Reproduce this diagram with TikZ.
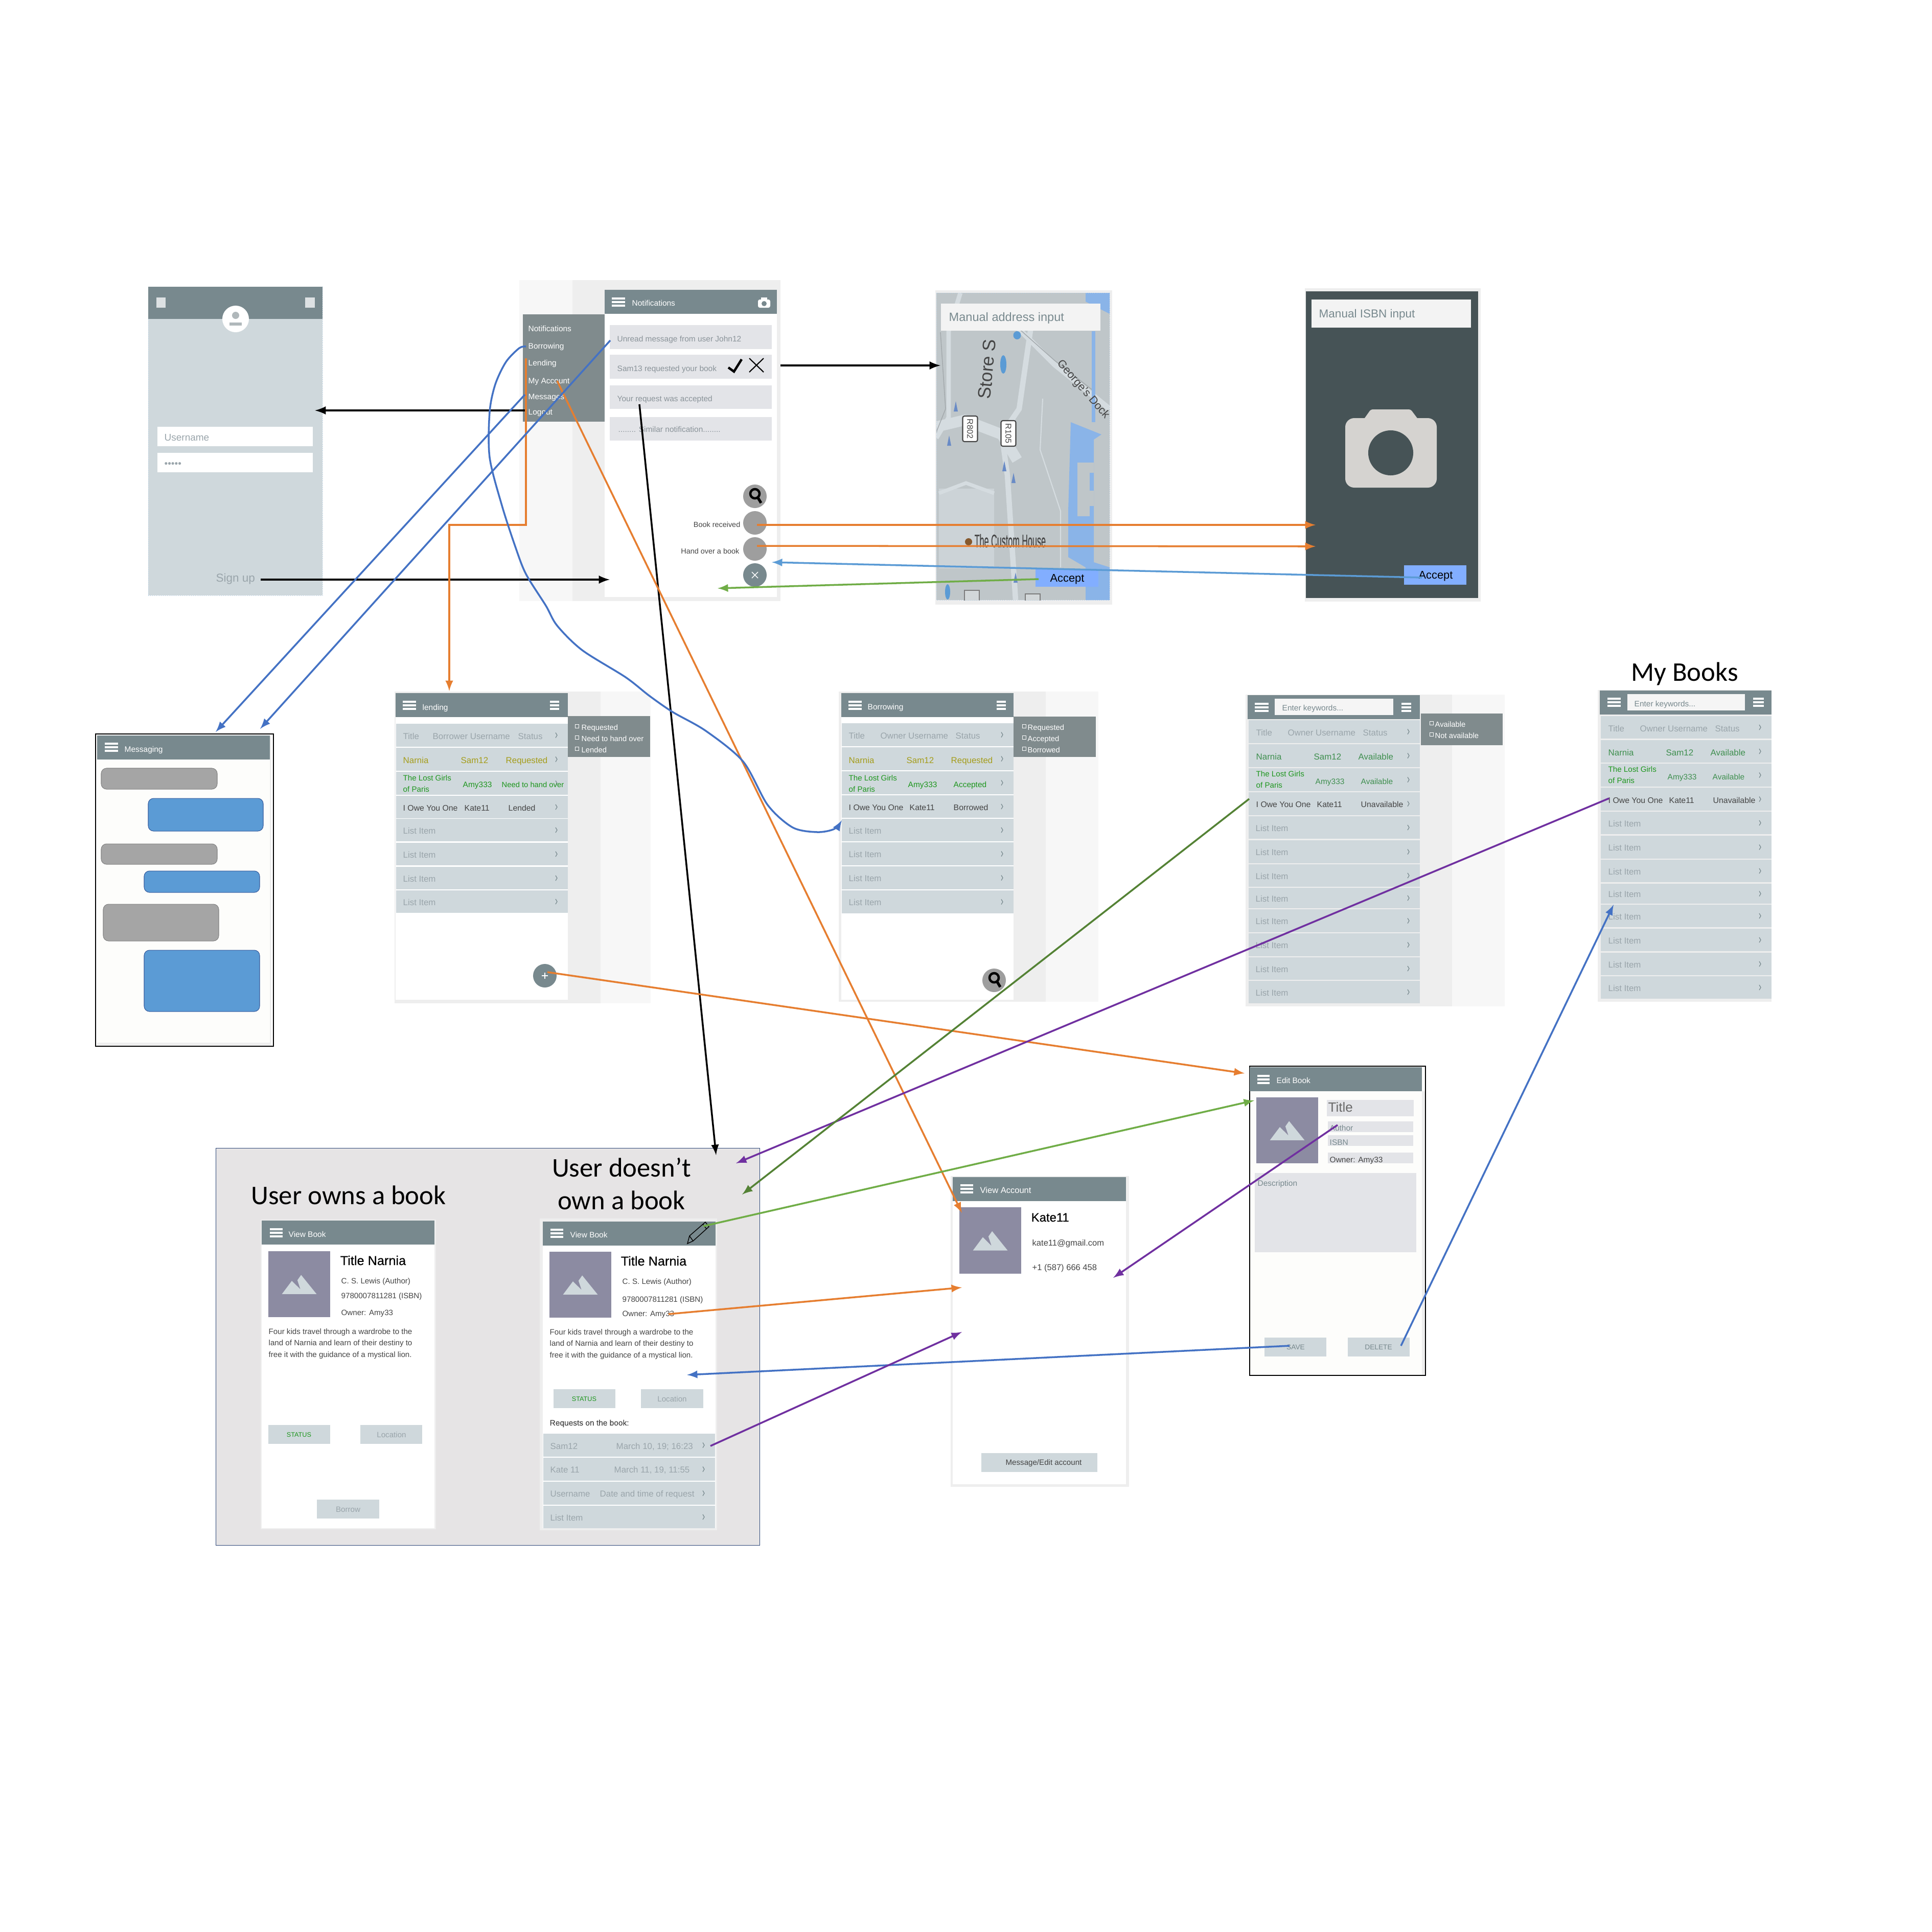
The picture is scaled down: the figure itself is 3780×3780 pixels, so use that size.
\documentclass[tikz,border=0pt]{standalone}
\usepackage{fontspec}
\setmainfont{Liberation Sans}
\newfontfamily\headfont{Carlito}
\newfontfamily\midfont[FakeBold=0.35]{Liberation Sans}
\usetikzlibrary{calc, arrows}
\definecolor{barcol}{HTML}{78898E}
\definecolor{rowcol}{HTML}{CFD8DC}
\definecolor{drawercol}{HTML}{808B8D}
\definecolor{notecol}{HTML}{E3E4E8}
\definecolor{panelcol}{HTML}{EEEEEE}
\definecolor{sidecol}{HTML}{F7F7F7}
\definecolor{fabgray}{HTML}{9E9E9E}
\definecolor{bubgray}{HTML}{A5A5A5}
\definecolor{bubblue}{HTML}{5B9BD5}
\definecolor{picol}{HTML}{8C8BA2}
\definecolor{faint}{HTML}{9AA5AB}
\definecolor{olivetxt}{HTML}{A59D1B}
\definecolor{greentxt}{HTML}{1E961E}
\definecolor{availtxt}{HTML}{3F8F4F}
\definecolor{darktxt}{HTML}{444444}
\definecolor{orangeln}{HTML}{E67E30}
\definecolor{blueln}{HTML}{4472C4}
\definecolor{skyln}{HTML}{5B9BD5}
\definecolor{limeln}{HTML}{70AD47}
\definecolor{mossln}{HTML}{548235}
\definecolor{purpleln}{HTML}{7030A0}
\definecolor{mapcol}{HTML}{BFC6C9}
\definecolor{roadcol}{HTML}{D5DCE0}
\definecolor{watercol}{HTML}{8AB4E8}
\definecolor{acceptcol}{HTML}{82AEFF}
\definecolor{slatecol}{HTML}{465356}
\definecolor{iconcol}{HTML}{D5D3D0}
\definecolor{greypanel}{HTML}{E6E4E5}
\definecolor{papercol}{HTML}{FDFDFB}
\tikzset{
  uitext/.style={anchor=west,inner sep=0pt,text height=1.5ex,text depth=.74ex,font=\fontsize{4.4}{6}\selectfont},
  listtxt/.style={uitext,font=\fontsize{4.8}{6}\selectfont},
  owetxt/.style={uitext,text=darktxt,font=\fontsize{4.5}{6}\selectfont},
  headtxt/.style={uitext,text=white},
  lostgirls/.style={anchor=west,inner sep=0pt,align=left,text=greentxt,font=\fontsize{4.3}{6.3}\selectfont},
  blurb/.style={anchor=west,inner sep=0pt,align=left,text=darktxt,font=\fontsize{4.3}{6.4}\selectfont},
  btntxt/.style={inner sep=0pt,font=\fontsize{4.3}{6}\selectfont,text=faint},
  bigtxt/.style={inner sep=0pt,font=\headfont\fontsize{15}{18}\selectfont},
  chev/.style={draw=barcol,line width=.35pt},
  bubble/.style={rounded corners=3pt,line width=.3pt},
  linkln/.style={line width=1pt}
}
% hamburger icon: left, right, top
\newcommand{\hamb}[3]{\foreach \k in {0,7,14} \fill[white] (#1,#3+\k) rectangle (#2,#3+\k+3.5);}
% list bar with its chevron: left, right, top, bottom
\newcommand{\rowbar}[4]{\fill[rowcol] (#1,#3) rectangle (#2,#4);
  \draw[chev] ({#2-24},{(#3+#4)/2-5}) -- ({#2-21},{(#3+#4)/2}) -- ({#2-24},{(#3+#4)/2+5});}
% little tick box of a drawer: left, middle
\newcommand{\tickbox}[2]{\draw[white,line width=.25pt] (#1,#2-3.5) rectangle (#1+7,#2+3.5);}
% grey book picture: left, right, top, bottom
\newcommand{\bookpic}[4]{\fill[picol] (#1,#3) rectangle (#2,#4);
  \fill[rowcol] ($(#1,#3)!.22!(#2,#3)+(0,{(#4-#3)*.65})$) -- ($(#1,#3)!.38!(#2,#3)+(0,{(#4-#3)*.45})$) -- ($(#1,#3)!.52!(#2,#3)+(0,{(#4-#3)*.58})$) -- ($(#1,#3)!.47!(#2,#3)+(0,{(#4-#3)*.44})$) -- ($(#1,#3)!.53!(#2,#3)+(0,{(#4-#3)*.36})$) -- ($(#1,#3)!.78!(#2,#3)+(0,{(#4-#3)*.65})$) -- cycle;}
% magnifying glass on a grey circle: centre x, centre y
\newcommand{\lens}[2]{\fill[fabgray] (#1,#2) circle [radius=.23cm];
  \draw[line width=1.3pt] (#1,#2-5) circle [radius=.09cm];
  \draw[line width=1.5pt] (#1+6,#2+3) -- (#1+12,#2+13);}

\begin{document}
\begin{tikzpicture}[x=0.01cm,y=-0.01cm,>=latex]
\fill[white] (0,0) rectangle (3780,3780);
\useasboundingbox (0,0) rectangle (3780,3780);

% the login screen
\fill[rowcol] (290,561) rectangle (631,1165);
\draw[skyln!50,line width=.2pt,densely dotted] (290,561) rectangle (631,1165);
\fill[barcol] (290,561) rectangle (631,624);
\fill[white!75!barcol] (306,582) rectangle (324,602);
\fill[white!75!barcol] (597,582) rectangle (616,602);
\fill[white] (461,624) circle [radius=.26cm];
\fill[rowcol!85!black] (461,617) circle [radius=.07cm];
\fill[rowcol!85!black] (449,637) -- (449,631) -- (473,631) -- (473,637) -- cycle;
\fill[white] (308,835) rectangle (612,873);
\fill[white] (308,886) rectangle (612,924);
\node[uitext,text=faint,font=\fontsize{5.4}{6}\selectfont] (loginUser) at (321,855) {Username};
\node[uitext,text=faint,font=\fontsize{5.4}{6}\selectfont] (loginPass) at (321,906) {•••••};
\node[uitext,text=faint,font=\fontsize{6.4}{7}\selectfont] (signUp) at (422,1131) {Sign up};

% the notifications screen
\fill[sidecol] (1016,548) rectangle (1120,1176);
\fill[panelcol] (1120,548) rectangle (1527,1176);
\fill[white] (1183,567) rectangle (1520,1168);
\fill[barcol] (1183,567) rectangle (1520,614);
\hamb{1197}{1223}{582}
\node[headtxt] (noteTitle) at (1236,591) {Notifications};
\fill[white,rounded corners=1pt] (1483,586) rectangle (1507,602);
\fill[white] (1489,582) rectangle (1501,587);
\fill[barcol] (1495,594) circle [radius=.05cm];
\fill[drawercol] (1023,615) rectangle (1183,825);
\foreach \nm/\py/\tx in {menuNote/641/Notifications,menuBorrow/675/Borrowing,menuLend/708/Lending,menuAcct/743/My Account,menuMsg/774/Messages,menuOut/804/Logout}
  \node[headtxt] (\nm) at (1033,\py) {\tx};
\foreach \ya/\yb in {636/683,694/741,754/800,816/862}
  \fill[notecol] (1193,\ya) rectangle (1510,\yb);
\foreach \nm/\py/\tx in {noteUnread/661/Unread message from user John12,noteSam/719/Sam13 requested your book,noteOk/778/Your request was accepted}
  \node[uitext,text=faint!90!black] (\nm) at (1207,\py) {\tx};
\node[uitext,text=faint!90!black] (noteMore) at (1209,838) {........ Similar notification........};
\draw[line width=1.3pt] (1425,719) -- (1436,727) -- (1451,703);
\draw[line width=.6pt] (1466,701) -- (1494,728) (1466,728) -- (1494,701);
\lens{1477}{971}
\fill[fabgray] (1477,1023) circle [radius=.23cm];
\fill[fabgray] (1477,1074) circle [radius=.23cm];
\fill[barcol] (1477,1125) circle [radius=.23cm];
\draw[white,line width=.4pt] (1471,1119) -- (1483,1131) (1471,1131) -- (1483,1119);
\node[uitext,anchor=east,text=darktxt,font=\fontsize{4.1}{6}\selectfont] (fabGot) at (1449,1024) {Book received};
\node[uitext,anchor=east,text=darktxt,font=\fontsize{4.1}{6}\selectfont] (fabGive) at (1447,1076) {Hand over a book};

% the map screen
\fill[panelcol] (1830,568) rectangle (2176,1183);
\begin{scope}
\clip (1832,573) rectangle (2171,1174);
\fill[mapcol] (1832,573) rectangle (2171,1174);
\draw[roadcol,line width=2.5pt] (1879,573) -- (1856,648) -- (1856,817) -- (1832,857);
\draw[roadcol,line width=3pt] (2017,640) -- (1994,800) -- (1960,850) -- (1971,930) -- (1987,1174);
\draw[roadcol,line width=6pt] (1832,835) -- (1887,822) -- (1960,850) -- (1990,900);
\draw[roadcol,line width=3pt] (1990,640) -- (2063,713) -- (2171,800);
\draw[mapcol!85!black,line width=.4pt] (1990,640) -- (2063,705) -- (2140,765);
\draw[mapcol!85!black,line width=.4pt] (1840,650) -- (1850,800) -- (1832,845);
\draw[roadcol,line width=.6pt] (2040,780) -- (2035,880) -- (2075,1000) -- (2075,1110);
\fill[roadcol!60!mapcol] (1837,956) rectangle (1945,1112);
\draw[roadcol,line width=2pt] (1837,965) -- (1890,945) -- (1945,965);
\fill[watercol] (2124,573) -- (2171,573) -- (2171,614) -- (2124,590) -- cycle;
\fill[watercol] (2136,648) rectangle (2143,826);
\fill[watercol] (2095,826) -- (2155,850) -- (2140,860) -- (2140,1100) -- (2171,1110) -- (2171,1174) -- (2124,1174) -- (2124,1110) -- (2090,1090) -- (2090,1000) -- cycle;
\fill[mapcol] (2108,905) rectangle (2140,1010);
\fill[watercol] (2132,925) rectangle (2140,960);
\fill[watercol] (2132,990) rectangle (2140,1010);
\fill[skyln] (1963,713) ellipse [x radius=.06cm,y radius=.18cm];
\fill[skyln] (1990,656) ellipse [x radius=.075cm,y radius=.08cm];
\fill[skyln] (1854,1158) ellipse [x radius=.05cm,y radius=.15cm];
\foreach \px/\py in {1870/795,1857/862,1965/912,1983/935,1987/1130}
  \fill[blueln!70!mapcol] (\px,\py-10) -- (\px+4,\py+10) -- (\px-4,\py+10) -- cycle;
\node[rotate=85,inner sep=0pt,text=darktxt,font=\fontsize{10}{12}\selectfont] (mapStore) at (1931,722) {Store S};
\node[rotate=-49,inner sep=0pt,text=darktxt,font=\fontsize{6.2}{7}\selectfont] (mapDock) at (2119,762) {George's Dock};
\foreach \nm/\px/\py/\tx in {mapSignA/1898/839/R802,mapSignB/1973/848/R105}
  \node[draw=darktxt,line width=.6pt,fill=white,rounded corners=1pt,rotate=-90,inner sep=0pt,minimum width=.5cm,minimum height=.29cm,text=darktxt,font=\fontsize{4.6}{5}\selectfont] (\nm) at (\px,\py) {\tx};
\fill[mapcol!70!white,draw=darktxt!70!white,line width=.5pt] (1887,1155) rectangle (1916,1185);
\fill[mapcol!70!white,draw=darktxt!70!white,line width=.5pt] (2006,1162) rectangle (2035,1185);
\fill[brown!70!black] (1895,1060) circle [radius=.07cm];
\node[anchor=west,inner sep=0pt,yscale=2.2,text=darktxt,font=\midfont\fontsize{4.6}{6}\selectfont] (mapHouse) at (1906,1058) {The Custom House};
\end{scope}
\draw[skyln!50,line width=.2pt,densely dotted] (1832,573) rectangle (2171,1174);
\fill[panelcol!70!white] (1841,594) rectangle (2153,647);
\node[uitext,text=barcol,font=\fontsize{6.7}{8}\selectfont] (addrInput) at (1856,621) {Manual address input};
\fill[acceptcol] (2026,1113) rectangle (2149,1148);
\node[inner sep=0pt,font=\fontsize{6.2}{8}\selectfont] (mapAccept) at (2088,1133) {Accept};

% the camera screen
\fill[panelcol] (2553,564) rectangle (2897,1177);
\fill[slatecol] (2555,570) rectangle (2892,1170);
\fill[panelcol!70!white] (2566,586) rectangle (2878,641);
\node[uitext,text=barcol,font=\fontsize{6.4}{8}\selectfont] (isbnInput) at (2580,614) {Manual ISBN input};
\fill[iconcol,rounded corners=5pt] (2632,818) rectangle (2811,954);
\fill[iconcol,rounded corners=1pt] (2665,825) -- (2682,801) -- (2760,801) -- (2778,825) -- cycle;
\fill[slatecol] (2721,886) circle [radius=.44cm];
\fill[acceptcol] (2747,1106) rectangle (2869,1144);
\node[inner sep=0pt,font=\fontsize{6.2}{8}\selectfont] (camAccept) at (2809,1127) {Accept};

% the messaging screen
\fill[panelcol] (190,1439) rectangle (531,2045);
\fill[papercol] (190,1439) rectangle (528,2040);
\draw[line width=.4pt] (187,1436) rectangle (535,2047);
\fill[barcol] (190,1439) rectangle (528,1486);
\hamb{205}{231}{1453}
\node[headtxt] (msgTitle) at (243,1464) {Messaging};
\foreach \xa/\xb/\ya/\yb in {198/425/1503/1544,198/425/1651/1691,202/428/1769/1841}
  \draw[bubble,fill=bubgray,draw=bubgray!80!black] (\xa,\ya) rectangle (\xb,\yb);
\foreach \xa/\xb/\ya/\yb in {290/515/1562/1626,282/508/1704/1746,282/508/1859/1979}
  \draw[bubble,fill=bubblue,draw=blueln!80!black] (\xa,\ya) rectangle (\xb,\yb);

% the lending screen
\fill[panelcol] (772,1353) rectangle (1175,1963);
\fill[sidecol] (1175,1353) rectangle (1273,1963);
\fill[white] (774,1356) rectangle (1111,1956);
\fill[barcol] (774,1356) rectangle (1111,1403);
\hamb{788}{814}{1371}
\hamb{1076}{1094}{1371}
\node[headtxt] (lendTitle) at (826,1382) {lending};
\rowbar{775}{1111}{1416}{1461}
\rowbar{775}{1111}{1463}{1508}
\rowbar{775}{1111}{1510}{1555}
\rowbar{775}{1111}{1557}{1601}
\foreach \nm/\px/\py/\tx in {lendHa/788/1439/Title,lendHb/846/1439/Borrower Username,lendHc/1013/1439/Status}
  \node[listtxt,text=faint] (\nm) at (\px,\py) {\tx};
\foreach \nm/\px/\tx in {lendNa/788/Narnia,lendNb/901/Sam12,lendNc/989/Requested}
  \node[listtxt,text=olivetxt] (\nm) at (\px,1486) {\tx};
\node[lostgirls] (lendLost) at (788,1533) {The Lost Girls\\of Paris};
\node[uitext,text=greentxt] (lendLb) at (905,1533) {Amy333};
\node[uitext,text=greentxt,font=\fontsize{4.2}{6}\selectfont] (lendLc) at (981,1533) {Need to hand over};
\foreach \nm/\px/\tx in {lendOa/788/I Owe You One,lendOb/908/Kate11,lendOc/994/Lended}
  \node[owetxt] (\nm) at (\px,1579) {\tx};
\foreach \i/\ya/\yb in {1/1602/1646,2/1649/1693,3/1696/1740,4/1742/1786} {
  \rowbar{775}{1111}{\ya}{\yb}
  \node[listtxt,text=faint] (lendItem\i) at (788,{(\ya+\yb)/2}) {List Item};
}
\fill[drawercol] (1111,1401) rectangle (1272,1481);
\foreach \nm/\py/\tx in {lendDa/1421/Requested,lendDb/1443/Need to hand over,lendDc/1465/Lended} {
  \tickbox{1125}{\py}
  \node[headtxt,font=\fontsize{4.2}{6}\selectfont] (\nm) at (1137,\py) {\tx};
}
\fill[barcol] (1066,1909) circle [radius=.23cm];
\draw[white,line width=.4pt] (1060,1909) -- (1072,1909) (1066,1903) -- (1066,1915);

% the borrowing screen
\fill[panelcol] (1641,1353) rectangle (2046,1960);
\fill[sidecol] (2046,1353) rectangle (2149,1960);
\fill[white] (1646,1356) rectangle (1983,1956);
\fill[barcol] (1646,1356) rectangle (1983,1403);
\hamb{1660}{1686}{1371}
\hamb{1950}{1968}{1371}
\node[headtxt] (borrowTitle) at (1697,1381) {Borrowing};
\rowbar{1647}{1983}{1415}{1460}
\rowbar{1647}{1983}{1462}{1507}
\rowbar{1647}{1983}{1509}{1554}
\rowbar{1647}{1983}{1556}{1600}
\foreach \nm/\px/\py/\tx in {borrowHa/1660/1438/Title,borrowHb/1722/1438/Owner Username,borrowHc/1869/1438/Status}
  \node[listtxt,text=faint] (\nm) at (\px,\py) {\tx};
\foreach \nm/\px/\tx in {borrowNa/1660/Narnia,borrowNb/1773/Sam12,borrowNc/1860/Requested}
  \node[listtxt,text=olivetxt] (\nm) at (\px,1486) {\tx};
\node[lostgirls] (borrowLost) at (1660,1533) {The Lost Girls\\of Paris};
\node[uitext,text=greentxt] (borrowLb) at (1776,1533) {Amy333};
\node[uitext,text=greentxt] (borrowLc) at (1865,1533) {Accepted};
\foreach \nm/\px/\tx in {borrowOa/1660/I Owe You One,borrowOb/1779/Kate11,borrowOc/1865/Borrowed}
  \node[owetxt] (\nm) at (\px,1578) {\tx};
\foreach \i/\ya/\yb in {1/1602/1646,2/1648/1693,3/1695/1740,4/1742/1787} {
  \rowbar{1647}{1983}{\ya}{\yb}
  \node[listtxt,text=faint] (borrowItem\i) at (1660,{(\ya+\yb)/2}) {List Item};
}
\fill[drawercol] (1983,1402) rectangle (2144,1481);
\foreach \nm/\py/\tx in {borrowDa/1421/Requested,borrowDb/1443/Accepted,borrowDc/1465/Borrowed} {
  \tickbox{2000}{\py}
  \node[headtxt,font=\fontsize{4.2}{6}\selectfont] (\nm) at (2010,\py) {\tx};
}
\lens{1945}{1918}

% the search screen
\fill[panelcol] (2437,1359) rectangle (2841,1969);
\fill[sidecol] (2841,1359) rectangle (2944,1969);
\fill[barcol] (2441,1360) rectangle (2778,1407);
\hamb{2455}{2482}{1375}
\hamb{2742}{2761}{1375}
\fill[white!96!black] (2494,1367) rectangle (2726,1399);
\node[uitext,text=barcol] (searchKey) at (2508,1383) {Enter keywords...};
\rowbar{2443}{2778}{1409}{1454}
\rowbar{2443}{2778}{1456}{1501}
\rowbar{2443}{2778}{1503}{1548}
\rowbar{2443}{2778}{1550}{1595}
\foreach \nm/\px/\tx in {searchHa/2457/Title,searchHb/2519/Owner Username,searchHc/2666/Status}
  \node[listtxt,text=faint] (\nm) at (\px,1432) {\tx};
\foreach \nm/\px/\tx in {searchNa/2457/Narnia,searchNb/2570/Sam12,searchNc/2657/Available}
  \node[listtxt,text=availtxt] (\nm) at (\px,1479) {\tx};
\node[lostgirls] (searchLost) at (2457,1525) {The Lost Girls\\of Paris};
\node[uitext,text=availtxt] (searchLb) at (2573,1527) {Amy333};
\node[uitext,text=availtxt] (searchLc) at (2662,1527) {Available};
\foreach \nm/\px/\tx in {searchOa/2457/I Owe You One,searchOb/2576/Kate11,searchOc/2662/Unavailable}
  \node[owetxt] (\nm) at (\px,1572) {\tx};
\foreach \i/\ya/\yb in {1/1597/1641,2/1644/1689,3/1691/1735,4/1737/1777,5/1779/1824,6/1826/1871,7/1873/1917,8/1919/1963} {
  \rowbar{2443}{2778}{\ya}{\yb}
  \node[listtxt,text=faint] (searchItem\i) at (2456,{(\ya+\yb)/2}) {List Item};
}
\fill[drawercol] (2780,1396) rectangle (2940,1458);
\foreach \nm/\py/\tx in {searchDa/1415/Available,searchDb/1437/Not available} {
  \tickbox{2797}{\py}
  \node[headtxt,font=\fontsize{4.2}{6}\selectfont] (\nm) at (2807,\py) {\tx};
}

% my books
\fill[panelcol] (3126,1350) rectangle (3466,1960);
\node[bigtxt] (myTitle) at (3296,1318) {My Books};
\fill[barcol] (3130,1351) rectangle (3466,1398);
\hamb{3145}{3171}{1365}
\hamb{3430}{3451}{1365}
\fill[white!96!black] (3184,1358) rectangle (3414,1390);
\node[uitext,text=barcol] (myKey) at (3197,1375) {Enter keywords...};
\rowbar{3132}{3466}{1401}{1445}
\rowbar{3132}{3466}{1448}{1492}
\rowbar{3132}{3466}{1494}{1539}
\rowbar{3132}{3466}{1541}{1586}
\foreach \nm/\px/\tx in {myHa/3146/Title,myHb/3208/Owner Username,myHc/3355/Status}
  \node[listtxt,text=faint] (\nm) at (\px,1424) {\tx};
\foreach \nm/\px/\tx in {myNa/3146/Narnia,myNb/3259/Sam12,myNc/3346/Available}
  \node[listtxt,text=availtxt] (\nm) at (\px,1471) {\tx};
\node[lostgirls] (myLost) at (3146,1516) {The Lost Girls\\of Paris};
\node[uitext,text=availtxt] (myLb) at (3262,1518) {Amy333};
\node[uitext,text=availtxt] (myLc) at (3350,1518) {Available};
\foreach \nm/\px/\tx in {myOa/3146/I Owe You One,myOb/3265/Kate11,myOc/3351/Unavailable}
  \node[owetxt] (\nm) at (\px,1564) {\tx};
\foreach \i/\ya/\yb in {1/1588/1632,2/1635/1680,3/1682/1726,4/1729/1768,5/1770/1814,6/1817/1861,7/1864/1908,8/1910/1954} {
  \rowbar{3132}{3466}{\ya}{\yb}
  \node[listtxt,text=faint] (myItem\i) at (3146,{(\ya+\yb)/2}) {List Item};
}

% the two view book screens on their panel
\draw[fill=greypanel,draw=blueln!60!black,line width=.25pt] (422,2246) rectangle (1486,3023);
\node[bigtxt] (ownsTitle) at (682,2338) {User owns a book};
\node[bigtxt] (notOwnA) at (1216,2284) {User doesn’t};
\node[bigtxt] (notOwnB) at (1216,2348) {own a book};

\fill[panelcol] (510,2386) rectangle (853,2992);
\fill[white] (512,2388) rectangle (850,2990);
\fill[barcol] (512,2388) rectangle (850,2435);
\hamb{528}{553}{2403}
\node[headtxt] (viewA) at (564,2413) {View Book};
\bookpic{525}{646}{2448}{2577}
\node[uitext,text=black,font=\midfont\fontsize{7.2}{8}\selectfont] (titleA) at (665,2468) {Title Narnia};
\foreach \nm/\py/\tx in {authorA/2504/C. S. Lewis (Author),isbnA/2533/9780007811281 (ISBN),ownerA/2566/Owner: Amy33}
  \node[uitext,text=darktxt,font=\fontsize{4.3}{6}\selectfont] (\nm) at (667,\py) {\tx};
\node[blurb] (blurbA) at (525,2629) {Four kids travel through a wardrobe to the\\land of Narnia and learn of their destiny to\\free it with the guidance of a mystical lion.};
\fill[rowcol] (525,2788) rectangle (646,2825);
\fill[rowcol] (705,2788) rectangle (826,2825);
\fill[rowcol] (620,2934) rectangle (742,2971);
\node[btntxt,text=greentxt,font=\fontsize{3.6}{5}\selectfont] (statusA) at (585,2807) {STATUS};
\node[btntxt] (locationA) at (766,2807) {Location};
\node[btntxt] (borrowBtn) at (681,2953) {Borrow};

\fill[panelcol] (1056,2384) rectangle (1403,2994);
\fill[white] (1062,2390) rectangle (1400,2990);
\fill[barcol] (1062,2390) rectangle (1400,2437);
\hamb{1077}{1102}{2404}
\node[headtxt] (viewB) at (1115,2414) {View Book};
\draw[line width=.4pt] (1345,2433) -- (1349,2418) -- (1380,2391) -- (1387,2400) -- (1356,2428) -- cycle (1349,2418) -- (1356,2428) (1375,2395) -- (1382,2404);
\bookpic{1075}{1196}{2449}{2578}
\node[uitext,text=black,font=\midfont\fontsize{7.2}{8}\selectfont] (titleB) at (1214,2469) {Title Narnia};
\foreach \nm/\py/\tx in {authorB/2505/C. S. Lewis (Author),isbnB/2540/9780007811281 (ISBN),ownerB/2568/Owner: Amy33}
  \node[uitext,text=darktxt,font=\fontsize{4.3}{6}\selectfont] (\nm) at (1217,\py) {\tx};
\node[blurb] (blurbB) at (1075,2630) {Four kids travel through a wardrobe to the\\land of Narnia and learn of their destiny to\\free it with the guidance of a mystical lion.};
\fill[rowcol] (1083,2718) rectangle (1204,2755);
\fill[rowcol] (1254,2718) rectangle (1376,2755);
\node[btntxt,text=greentxt,font=\fontsize{3.6}{5}\selectfont] (statusB) at (1143,2737) {STATUS};
\node[btntxt] (locationB) at (1315,2737) {Location};
\node[uitext,text=darktxt,font=\midfont\fontsize{4.4}{6}\selectfont] (reqHead) at (1075,2782) {Requests on the book:};
\rowbar{1063}{1399}{2805}{2850}
\rowbar{1063}{1399}{2852}{2897}
\rowbar{1063}{1399}{2899}{2944}
\rowbar{1063}{1399}{2946}{2990}
\foreach \nm/\px/\py/\tx in {reqAa/1076/2828/Sam12,reqAb/1205/2828/{March 10, 19; 16:23},reqBa/1076/2874/Kate 11,reqBb/1201/2874/{March 11, 19, 11:55},reqCa/1076/2921/Username,reqCb/1173/2921/Date and time of request,reqDa/1076/2968/List Item}
  \node[listtxt,text=faint] (\nm) at (\px,\py) {\tx};

% the account screen
\fill[panelcol] (1860,2301) rectangle (2209,2909);
\fill[white] (1864,2303) rectangle (2203,2904);
\fill[barcol] (1864,2303) rectangle (2203,2350);
\hamb{1879}{1904}{2317}
\node[headtxt,font=\fontsize{4.7}{6}\selectfont] (acctTitle) at (1917,2327) {View Account};
\bookpic{1877}{1998}{2362}{2492}
\node[uitext,text=black,font=\midfont\fontsize{6.8}{8}\selectfont] (acctName) at (2017,2383) {Kate11};
\node[uitext,text=darktxt,font=\fontsize{4.7}{6}\selectfont] (acctMail) at (2019,2430) {kate11@gmail.com};
\node[uitext,text=darktxt,font=\fontsize{4.7}{6}\selectfont] (acctPhone) at (2019,2478) {+1 (587) 666 458};
\fill[rowcol] (1920,2843) rectangle (2147,2880);
\node[btntxt,text=darktxt] (acctBtn) at (2042,2863) {Message/Edit account};

% the edit screen
\fill[papercol] (2445,2086) rectangle (2789,2691);
\fill[panelcol] (2782,2135) rectangle (2789,2691);
\draw[line width=.4pt] (2445,2086) rectangle (2789,2691);
\fill[barcol] (2445,2088) rectangle (2782,2135);
\hamb{2460}{2484}{2103}
\node[headtxt] (editTitle) at (2497,2112) {Edit Book};
\bookpic{2458}{2579}{2147}{2276}
\fill[notecol] (2596,2152) rectangle (2766,2184);
\fill[notecol] (2598,2194) rectangle (2765,2215);
\fill[notecol] (2598,2221) rectangle (2765,2242);
\fill[notecol] (2598,2255) rectangle (2765,2276);
\fill[notecol] (2455,2295) rectangle (2771,2450);
\node[uitext,text=darktxt!80!white,font=\fontsize{7.4}{8}\selectfont] (editName) at (2598,2168) {Title};
\node[uitext,text=barcol] (editAuthor) at (2601,2205) {Author};
\node[uitext,text=barcol] (editIsbn) at (2601,2233) {ISBN};
\node[uitext,text=darktxt] (editOwner) at (2601,2267) {Owner: Amy33};
\node[uitext,text=barcol] (editDesc) at (2460,2313) {Description};
\fill[rowcol] (2474,2617) rectangle (2595,2654);
\fill[rowcol] (2637,2617) rectangle (2758,2654);
\node[btntxt,text=barcol,font=\fontsize{3.9}{5}\selectfont] (saveBtn) at (2535,2636) {SAVE};
\node[btntxt,text=barcol,font=\fontsize{3.9}{5}\selectfont] (deleteBtn) at (2697,2636) {DELETE};

% the free ends of the arrows
\foreach \nm/\px/\py in {logoutOut/1027/803,loginIn/616/803,signOut/510/1134,noteIn/1193/1134,samOut/1527/715,mapIn/1840/715,unreadOut/1251/791,viewTop/1401/2260,lendOut/1029/701,lendBend/1029/1027,lendCorner/879/1027,lendIn/879/1352,acctOut/1090/745,acctIn/1882/2373,gotOut/1481/1027,gotIn/2574/1027,giveOut/1481/1068,giveIn/2574/1069,camOut/2782/1130,camIn/1510/1100,mapOut/2032/1133,mapBack/1404/1151,msgOut/1027/772,msgInA/422/1432,unreadMsg/1194/666,msgInB/509/1426,borrowOut/1029/678,borrowIn/1647/1605,fabOut/1071/1902,editInA/2435/2100,pencilOut/1376/2399,editInB/2454/2153,amyOut/1308/2571,acctInB/1882/2519,samRow/1390/2829,acctInC/1882/2606,saveOut/2523/2633,viewInB/1344/2690,deleteOut/2741/2633,myIn/3157/1770,authorOut/2617/2201,acctInD/2178/2500,oweOut/3148/1562,viewInC/1440/2276,searchOut/2444/1563,viewInD/1452/2337}
  \coordinate (\nm) at (\px,\py);

% the arrows
\draw[linkln,->,line width=1.1pt] (logoutOut) -- (loginIn);
\draw[linkln,->,line width=1.1pt] (signOut) -- (noteIn);
\draw[linkln,->,line width=1.1pt] (samOut) -- (mapIn);
\draw[linkln,->] (unreadOut) -- (viewTop);
\draw[linkln,->,orangeln] (lendOut) -- (lendBend) -- (lendCorner) -- (lendIn);
\draw[linkln,->,orangeln] (acctOut) -- (acctIn);
\draw[linkln,->,orangeln] (gotOut) -- (gotIn);
\draw[linkln,->,orangeln] (giveOut) -- (giveIn);
\draw[linkln,->,orangeln] (fabOut) -- (editInA);
\draw[linkln,->,orangeln] (amyOut) -- (acctInB);
\draw[linkln,->,skyln] (camOut) -- (camIn);
\draw[linkln,->,limeln] (mapOut) -- (mapBack);
\draw[linkln,->,limeln] (pencilOut) -- (editInB);
\draw[linkln,->,blueln] (msgOut) -- (msgInA);
\draw[linkln,->,blueln] (unreadMsg) -- (msgInB);
\draw[linkln,->,blueln] plot[smooth,tension=.5] coordinates {(borrowOut) (1016,681) (990,708) (969,752) (958,806) (958,895) (982,989) (1008,1069) (1029,1123) (1068,1185) (1090,1224) (1139,1272) (1224,1325) (1270,1361) (1316,1393) (1381,1430) (1454,1490) (1502,1575) (1551,1619) (1599,1628) (1632,1622) (borrowIn)};
\draw[linkln,->,blueln] (saveOut) -- (viewInB);
\draw[linkln,->,blueln] (deleteOut) -- (myIn);
\draw[linkln,->,purpleln] (samRow) -- (acctInC);
\draw[linkln,->,purpleln] (authorOut) -- (acctInD);
\draw[linkln,->,purpleln] (oweOut) -- (viewInC);
\draw[linkln,->,mossln] (searchOut) -- (viewInD);
\end{tikzpicture}
\end{document}
